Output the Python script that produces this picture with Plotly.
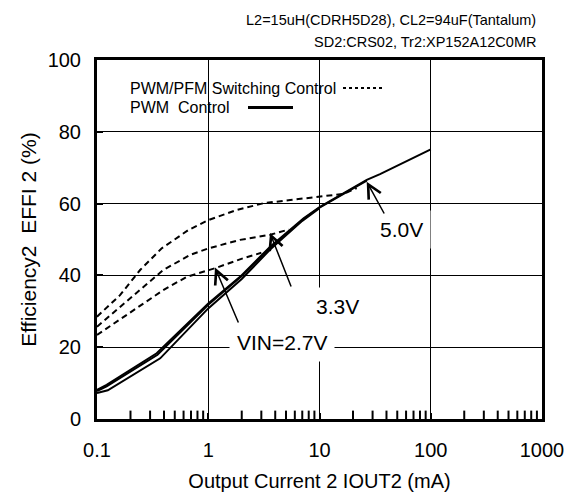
import plotly.graph_objects as go

# ---------------- data ----------------
iout_pwm_50 = [0.1, 0.122, 0.344, 1.0, 1.93, 3.6, 7.2, 10.1, 26.6, 35, 100]
eff_pwm_50 = [8.1, 9.5, 18.3, 32.2, 39.6, 48.0, 55.9, 59.1, 66.6, 68.2, 75.1]

iout_pwm_33 = [0.1, 0.122, 0.35, 1.0, 2.0, 3.6, 7.2, 10, 26.6]
eff_pwm_33 = [7.8, 9.1, 17.9, 31.8, 39.8, 47.7, 55.7, 58.9, 66.4]

iout_pwm_27 = [0.1, 0.125, 0.37, 1.0, 2.0, 3.6, 7.0, 10]
eff_pwm_27 = [7.2, 8.0, 16.9, 30.8, 39.0, 47.2, 55.2, 58.7]

iout_pfm_50 = [0.1, 0.161, 0.244, 0.38, 0.66, 1.0, 1.8, 3.13, 5.45, 10, 16.4, 21.6]
eff_pfm_50 = [28.5, 34.5, 41.5, 47.5, 52.6, 55.4, 58.2, 60.1, 61.0, 61.9, 62.7, 64.3]

iout_pfm_33 = [0.1, 0.15, 0.244, 0.394, 0.686, 1.0, 1.93, 3.6, 5.3]
eff_pfm_33 = [25.7, 30.4, 35.9, 41.5, 45.7, 47.5, 49.9, 51.3, 52.8]

iout_pfm_27 = [0.1, 0.15, 0.244, 0.394, 0.64, 1.15, 2.07, 3.0]
eff_pfm_27 = [23.4, 27.1, 31.3, 35.9, 39.6, 42.0, 44.8, 46.3]

y_tickvals = [0, 20, 40, 60, 80, 100]
x_minor_tickvals = [m * d for d in (0.1, 1, 10, 100) for m in range(2, 10)]

# ---------------- layout geometry ----------------
OFF = 8                      # page body margin of the browser
W, H = 575 - OFF, 497 - OFF
L, R, T, B = 97, 542, 60, 419   # plot area in reference (window) pixels


def px(x):
    return (x - L) / (R - L)


def py(y):
    return (B - y) / (B - T)


FONT = "Liberation Sans, Arial, sans-serif"

fig = go.Figure()

solid = dict(color="black", width=2)
dashed = dict(color="black", width=2, dash="6px,4px")

for xs, ys in [(iout_pwm_50, eff_pwm_50), (iout_pwm_33, eff_pwm_33), (iout_pwm_27, eff_pwm_27)]:
    fig.add_trace(go.Scatter(x=xs, y=ys, mode="lines", line=solid, showlegend=False,
                             hoverinfo="skip"))
for xs, ys in [(iout_pfm_50, eff_pfm_50), (iout_pfm_33, eff_pfm_33), (iout_pfm_27, eff_pfm_27)]:
    fig.add_trace(go.Scatter(x=xs, y=ys, mode="lines", line=dashed, showlegend=False,
                             hoverinfo="skip"))

# minor log ticks on the bottom axis (lower half clipped by the plot area -> inside ticks)
fig.add_trace(go.Scatter(x=x_minor_tickvals, y=[y_tickvals[0]] * len(x_minor_tickvals),
                         mode="markers", cliponaxis=True, showlegend=False, hoverinfo="skip",
                         marker=dict(symbol="line-ns", size=12, color="black",
                                     line=dict(width=2, color="black"))))

shapes = [
    dict(type="rect", xref="paper", yref="paper", x0=px(120), x1=px(392), y0=py(122), y1=py(73),
         fillcolor="white", line=dict(width=0), layer="between"),
    dict(type="line", xref="paper", yref="paper", x0=px(343), x1=px(383), y0=py(88), y1=py(88),
         line=dict(color="black", width=2, dash="dot")),
    dict(type="line", xref="paper", yref="paper", x0=px(248), x1=px(293), y0=py(107.5), y1=py(107.5),
         line=dict(color="black", width=3)),
]

ann = []
ann.append(dict(xref="paper", yref="paper", x=px(538), y=py(20), xanchor="right", yanchor="middle",
                text="L2=15uH(CDRH5D28), CL2=94uF(Tantalum)", showarrow=False,
                font=dict(size=14.5, color="black", family=FONT)))
ann.append(dict(xref="paper", yref="paper", x=px(538), y=py(42), xanchor="right", yanchor="middle",
                text="SD2:CRS02, Tr2:XP152A12C0MR", showarrow=False,
                font=dict(size=14.5, color="black", family=FONT)))
ann.append(dict(xref="paper", yref="paper", x=px(128), y=py(88), xanchor="left", yanchor="middle",
                text="PWM/PFM Switching Control", showarrow=False,
                font=dict(size=16, color="black", family=FONT)))
ann.append(dict(xref="paper", yref="paper", x=px(128), y=py(107.5), xanchor="left", yanchor="middle",
                text="PWM  Control", showarrow=False,
                font=dict(size=16, color="black", family=FONT)))
for txt, cx, cy in [("5.0V", 401, 229), ("3.3V", 337, 306), ("VIN=2.7V", 282, 342)]:
    ann.append(dict(xref="paper", yref="paper", x=px(cx), y=py(cy), xanchor="center", yanchor="middle",
                    text=txt, showarrow=False, bgcolor="white", borderpad=7,
                    font=dict(size=21, color="black", family=FONT)))
for (tx, ty), (sx, sy) in [((366.7, 181.7), (385, 215)),
                           ((270, 233), (291.7, 288)),
                           ((215, 267.5), (239, 324))]:
    ann.append(dict(xref="paper", yref="paper", x=px(tx), y=py(ty), ax=sx - tx, ay=sy - ty,
                    axref="pixel", ayref="pixel", text="", showarrow=True,
                    arrowhead=5, arrowsize=1.8, arrowwidth=1.5, arrowcolor="black"))

fig.update_layout(
    width=W, height=H,
    margin=dict(l=L - OFF, r=575 - R, t=T - OFF, b=497 - B, pad=0, autoexpand=False),
    paper_bgcolor="white", plot_bgcolor="white",
    font=dict(family=FONT, color="black"),
    shapes=shapes, annotations=ann,
    xaxis=dict(type="log", range=[-1, 3], dtick=1, exponentformat="none",
               showgrid=True, gridcolor="black", gridwidth=1,
               showline=True, linecolor="black", linewidth=3, mirror=True,
               ticks="inside", ticklen=6, tickwidth=2, tickcolor="black",
               tickfont=dict(size=20, family=FONT, color="black"), ticklabelstandoff=11,
               title=dict(text="Output Current 2 IOUT2 (mA)", font=dict(size=20, family=FONT, color="black"),
                          standoff=14),
               zeroline=False, fixedrange=True, automargin=False),
    yaxis=dict(range=[0, 100], tickvals=y_tickvals,
               showgrid=True, gridcolor="black", gridwidth=1,
               showline=True, linecolor="black", linewidth=3, mirror=True,
               ticks="inside", ticklen=6, tickwidth=2, tickcolor="black",
               tickfont=dict(size=20, family=FONT, color="black"), ticklabelstandoff=9,
               title=dict(text="Efficiency2  EFFI 2 (%)", font=dict(size=21, family=FONT, color="black"),
                          standoff=6),
               zeroline=False, fixedrange=True, automargin=False),
)

fig.write_html("out.html")
